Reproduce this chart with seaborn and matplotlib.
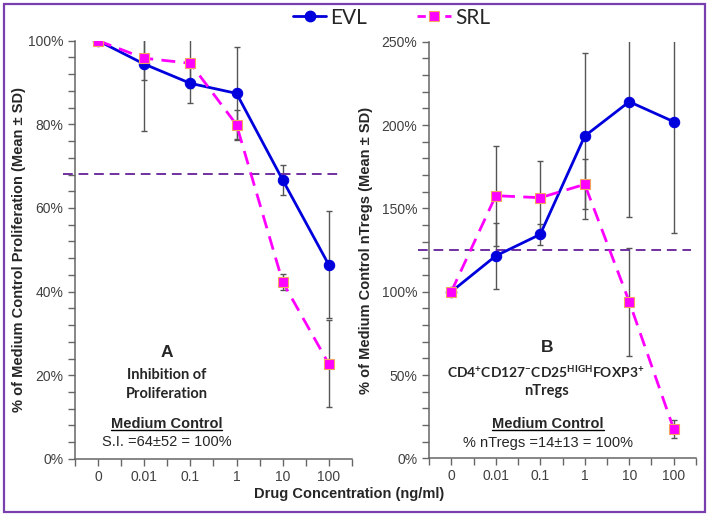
import numpy as np
import pandas as pd
import seaborn as sns
import matplotlib.pyplot as plt
from matplotlib.lines import Line2D
from matplotlib.patches import Rectangle

# donnees
conc = ['0', '0.01', '0.1', '1', '10', '100']

prolif_evl = [100, 94.4, 89.8, 87.4, 66.7, 46.4]
prolif_evl_sd = [0, 16.0, 4.8, 11.2, 3.5, 12.8]
prolif_srl = [100, 95.8, 94.6, 79.9, 42.3, 22.7]
prolif_srl_sd = [0, 5.2, 6.0, 3.5, 2.0, 10.4]
prolif_ref = 68.2

treg_evl = [100, 121.5, 134.4, 193.4, 214.0, 202.0]
treg_evl_sd = [0, 20.0, 6.5, 49.6, 69.0, 66.6]
treg_srl = [100, 157.6, 156.4, 164.4, 94.0, 17.6]
treg_srl_sd = [0, 30.0, 22.0, 15.0, 32.5, 5.5]
treg_ref = 125.0

sns.set_style('ticks')
plt.rcParams['font.family'] = ['Liberation Sans', 'DejaVu Sans']
plt.rcParams['mathtext.default'] = 'regular'

BLUE = '#0000DD'
MAG = '#FF00FF'
PURPLE = '#7030A0'
GREY = '#404040'

fig = plt.figure(figsize=(7.08, 5.15), dpi=100)
axA = fig.add_axes([0.106, 0.109, 0.391, 0.812])
axB = fig.add_axes([0.606, 0.110, 0.377, 0.809])


def draw_panel(ax, evl, evl_sd, srl, srl_sd, ref, ymax, major, minor, ref_x):
    x = np.arange(len(conc))
    df = pd.DataFrame({'x': np.concatenate([x, x]),
                       'val': evl + srl,
                       'drug': ['EVL'] * len(x) + ['SRL'] * len(x)})
    # barres d'erreur (SD)
    ax.errorbar(x, evl, yerr=evl_sd, fmt='none', ecolor='#555555',
                elinewidth=1.0, capsize=2.5, capthick=1.0, zorder=1)
    ax.errorbar(x, srl, yerr=srl_sd, fmt='none', ecolor='#555555',
                elinewidth=1.0, capsize=2.5, capthick=1.0, zorder=1)
    sns.lineplot(data=df[df.drug == 'EVL'], x='x', y='val', ax=ax,
                 color=BLUE, lw=2.0, marker='o', markersize=7.5,
                 markeredgecolor=BLUE, zorder=3, legend=False)
    sns.lineplot(data=df[df.drug == 'SRL'], x='x', y='val', ax=ax,
                 color=MAG, lw=2.0, marker='s', markersize=7,
                 markeredgecolor='#F4A460', markeredgewidth=0.8,
                 dashes=(5, 3), zorder=4, legend=False)
    # ligne de reference pointillee
    ax.plot(ref_x, [ref, ref], color=PURPLE, lw=1.4, ls=(0, (5, 3)),
            clip_on=False, zorder=2)
    ax.set_xlim(-0.5, 5.5)
    ax.set_ylim(0, ymax)
    ax.set_xticks(x)
    ax.set_xticklabels(conc)
    ax.set_xticks(np.arange(-0.5, 5.6, 1.0), minor=True)
    ax.set_yticks(np.arange(0, ymax + 0.1, major))
    ax.set_yticklabels([f'{v:.0f}%' for v in np.arange(0, ymax + 0.1, major)])
    ax.set_yticks(np.arange(0, ymax + 0.1, minor), minor=True)
    ax.tick_params(axis='both', which='both', colors='#666666',
                   labelcolor=GREY, labelsize=10, length=5, width=1)
    ax.tick_params(axis='x', pad=3)
    ax.set_xlabel('')
    for s in ['left', 'bottom']:
        ax.spines[s].set_color('#666666')
        ax.spines[s].set_linewidth(1.1)
    sns.despine(ax=ax)


draw_panel(axA, prolif_evl, prolif_evl_sd, prolif_srl, prolif_srl_sd,
           prolif_ref, 100, 20, 4, [-0.76, 5.22])
draw_panel(axB, treg_evl, treg_evl_sd, treg_srl, treg_srl_sd,
           treg_ref, 250, 50, 10, [-0.74, 5.38])

axA.set_ylabel('% of Medium Control Proliferation (Mean ± SD)',
               fontsize=10.5, fontweight='bold', labelpad=1)
axB.set_ylabel('% of Medium Control nTregs (Mean ± SD)',
               fontsize=10.5, fontweight='bold', labelpad=6)
fig.text(0.493, 0.040, 'Drug Concentration (ng/ml)', ha='center',
         va='center', fontsize=10.5, fontweight='bold')

# textes des panneaux
cal = ['Lato', 'DejaVu Sans']
axA.text(1.48, 25.4, 'A', ha='center', va='center', fontsize=12.5, fontweight='bold')
axA.text(1.48, 20.1, 'Inhibition of', ha='center', va='center', fontsize=10.5,
         fontweight='bold', family=cal)
axA.text(1.48, 15.5, 'Proliferation', ha='center', va='center', fontsize=10.5,
         fontweight='bold', family=cal)
mcA = axA.text(1.48, 8.4, 'Medium Control', ha='center', va='center',
               fontsize=10.5, fontweight='bold')
axA.text(1.48, 4.0, 'S.I. =64±52 = 100%', ha='center', va='center', fontsize=10.5)

axB.text(2.15, 66.6, 'B', ha='center', va='center', fontsize=12.5, fontweight='bold')
axB.text(2.13, 51.6, r'CD4$^{+}$CD127$^{-}$CD25$^{HIGH}$FOXP3$^{+}$', ha='center',
         va='center', fontsize=10, fontweight='bold', family=cal)
axB.text(2.13, 40.6, 'nTregs', ha='center', va='center', fontsize=10.5,
         fontweight='bold', family=cal)
mcB = axB.text(2.17, 20.6, 'Medium Control', ha='center', va='center',
               fontsize=10.5, fontweight='bold')
axB.text(2.17, 9.4, '% nTregs =14±13 = 100%', ha='center', va='center', fontsize=10.5)

# soulignement de "Medium Control"
fig.canvas.draw()
r = fig.canvas.get_renderer()
inv = fig.transFigure.inverted()
for t in (mcA, mcB):
    bb = t.get_window_extent(renderer=r)
    (x0, y0), (x1, y1) = inv.transform([[bb.x0, bb.y0 + 1], [bb.x1, bb.y0 + 1]])
    fig.add_artist(Line2D([x0, x1], [y0, y1], color='black', lw=1.0))

# legende commune
handles = [Line2D([], [], color=BLUE, lw=2, marker='o', markersize=7.5),
           Line2D([], [], color=MAG, lw=2, marker='s', markersize=7,
                  markeredgecolor='#F4A460', markeredgewidth=0.8, dashes=(3, 2))]
fig.legend(handles, ['EVL', 'SRL'], loc='center', bbox_to_anchor=(0.553, 0.966),
           ncol=2, frameon=False, handlelength=1.6, columnspacing=2.4,
           handletextpad=0.2, prop={'family': cal, 'size': 15})

# cadre violet autour de la figure
fig.add_artist(Rectangle((4 / 708, 3 / 515), 701 / 708, 508 / 515,
                         transform=fig.transFigure, fill=False,
                         edgecolor='#7A3FAE', lw=1.6))

fig.savefig('out.png', dpi=100)
